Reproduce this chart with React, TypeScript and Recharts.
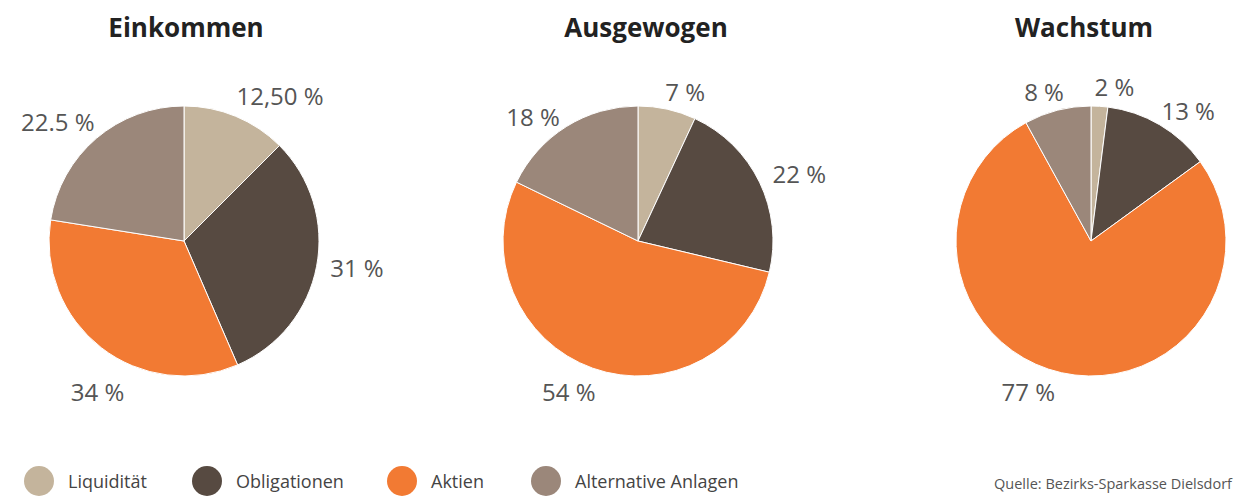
import { PieChart, Pie, Cell } from "recharts";

const categories = ["Liquidität", "Obligationen", "Aktien", "Alternative Anlagen"];
const colors = ["#c4b49c", "#574a41", "#f27a33", "#9b877a"];

const titles = ["Einkommen", "Ausgewogen", "Wachstum"];
const einkommen = [12.5, 31, 34, 22.5];
const ausgewogen = [7, 22, 54, 18];
const wachstum = [2, 13, 77, 8];
const einkommenLabels = ["12,50 %", "31 %", "34 %", "22.5 %"];
const ausgewogenLabels = ["7 %", "22 %", "54 %", "18 %"];
const wachstumLabels = ["2 %", "13 %", "77 %", "8 %"];

const source = "Quelle: Bezirks-Sparkasse Dielsdorf";

const font = "'Open Sans', sans-serif";
const RADIAN = Math.PI / 180;

// label placement tweaks: [angle shift in degrees (clockwise), extra distance from the rim]
const pies = [
  {
    title: titles[0], values: einkommen, labels: einkommenLabels, cx: 184, titleX: 186,
    shift: [[11, 39], [-2, 40], [-8, 39], [-6, 39]],
  },
  {
    title: titles[1], values: ausgewogen, labels: ausgewogenLabels, cx: 638, titleX: 646,
    shift: [[5, 22], [3, 40], [5, 31], [-8, 28]],
  },
  {
    title: titles[2], values: wachstum, labels: wachstumLabels, cx: 1091, titleX: 1084,
    shift: [[5, 21], [6, 28], [10, 28], [-3, 22]],
  },
];

function makeLabel(labels: string[], shift: number[][]) {
  return (props: any) => {
    const { cx, cy, midAngle, outerRadius, index } = props;
    const angle = midAngle - shift[index][0];
    const r = outerRadius + shift[index][1];
    const x = cx + r * Math.cos(-angle * RADIAN);
    const y = cy + r * Math.sin(-angle * RADIAN);
    return (
      <text x={x} y={y} textAnchor="middle" dominantBaseline="central" fill="#555" fontSize={24} fontFamily={font}>
        {labels[index]}
      </text>
    );
  };
}

export default function App() {
  return (
    <div style={{ position: "absolute", left: 0, top: 0, width: 1237, height: 496, background: "#fff", fontFamily: font, overflow: "hidden" }}>
      <PieChart width={1237} height={496} margin={{ top: 0, right: 0, bottom: 0, left: 0 }}>
        {pies.map((p) => (
          <Pie
            key={p.title}
            data={p.values.map((v, i) => ({ name: categories[i], value: v }))}
            dataKey="value"
            nameKey="name"
            cx={p.cx}
            cy={241}
            outerRadius={135}
            startAngle={90}
            endAngle={-270}
            stroke="#fff"
            strokeWidth={1}
            label={makeLabel(p.labels, p.shift)}
            labelLine={false}
            isAnimationActive={false}
          >
            {p.values.map((_, i) => (
              <Cell key={i} fill={colors[i]} />
            ))}
          </Pie>
        ))}
      </PieChart>
      {pies.map((p) => (
        <div
          key={p.title}
          style={{ position: "absolute", left: p.titleX - 150, width: 300, top: 9, textAlign: "center", fontSize: 26, fontWeight: 700, color: "#222" }}
        >
          {p.title}
        </div>
      ))}
      {categories.map((c, i) => (
        <div key={c} style={{ position: "absolute", left: [24, 192, 387, 531][i], top: 466, display: "flex", alignItems: "center" }}>
          <span style={{ width: 30, height: 30, borderRadius: "50%", background: colors[i], display: "inline-block" }} />
          <span style={{ marginLeft: 14, fontSize: 18, color: "#444" }}>{c}</span>
        </div>
      ))}
      <div style={{ position: "absolute", right: 5, top: 474, fontSize: 14.5, color: "#555" }}>{source}</div>
    </div>
  );
}
